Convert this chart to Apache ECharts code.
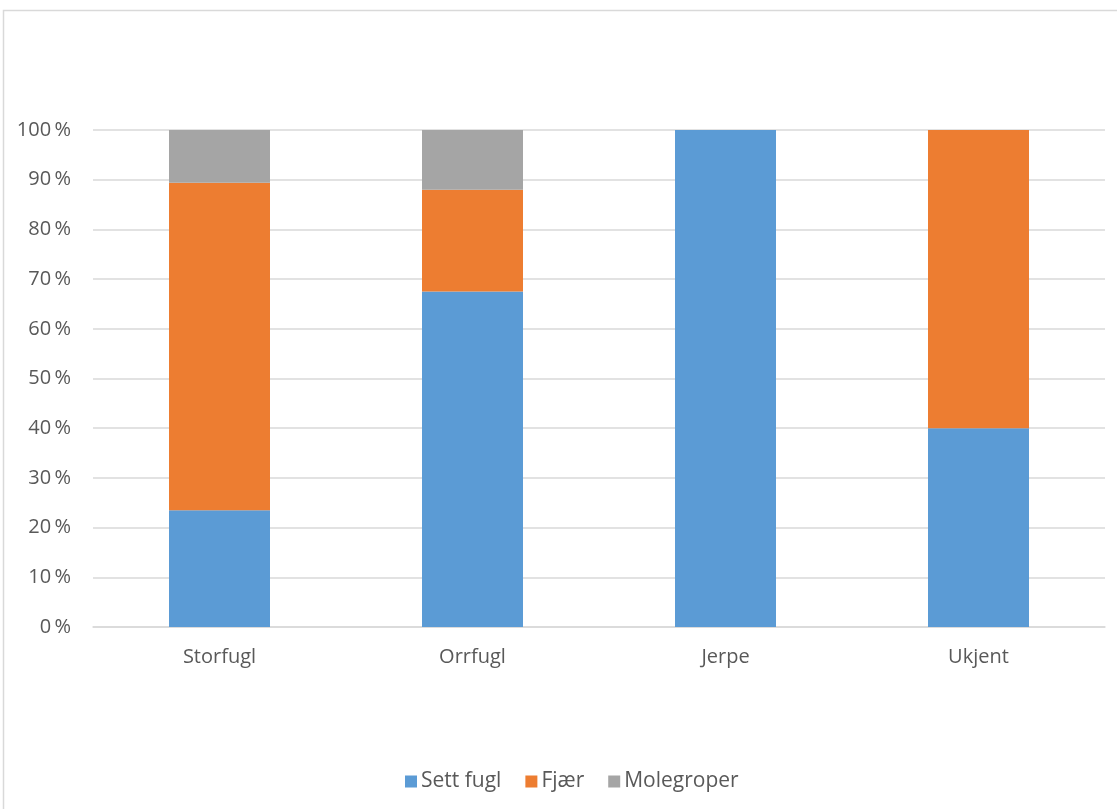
<!DOCTYPE html>
<html>
<head>
<meta charset="utf-8">
<script src="https://cdn.jsdelivr.net/npm/echarts@6/dist/echarts.min.js"></script>
<style>
  html, body { margin: 0; padding: 0; background: #ffffff; }
  #chart { width: 1117px; height: 809px; }
</style>
</head>
<body>
<div id="chart"></div>
<script>
// Categories and percentage shares per observation type
const categories = ['Storfugl', 'Orrfugl', 'Jerpe', 'Ukjent'];
const settFugl = [23.5, 67.5, 100, 40];
const fjaer = [65.9, 20.5, 0, 60];
const molegroper = [10.6, 12.0, 0, 0];
const seriesNames = ['Sett fugl', 'Fjær', 'Molegroper'];

const textColor = '#595959';
const gridColor = '#d9d9d9';
const fontFamily = '"Open Sans", "Noto Sans", sans-serif';

const chart = echarts.init(document.getElementById('chart'), null, { renderer: 'canvas' });

const barStyle = (name, data, color) => ({
  name: name,
  type: 'bar',
  stack: 'total',
  data: data,
  barWidth: 101,
  itemStyle: { color: color },
  emphasis: { disabled: true }
});

chart.setOption({
  animation: false,
  backgroundColor: '#ffffff',
  textStyle: { fontFamily: fontFamily },
  graphic: [{
    type: 'rect',
    shape: { x: 3.5, y: 10.5, width: 1200, height: 900 },
    style: { fill: 'none', stroke: gridColor, lineWidth: 1.5 },
    silent: true,
    z: -1
  }],
  grid: { left: 93, right: 12, top: 130, bottom: 182, containLabel: false },
  legend: {
    left: 400,
    top: 766,
    itemWidth: 12,
    itemHeight: 12,
    itemGap: 24,
    icon: 'rect',
    textStyle: { color: textColor, fontSize: 21, fontFamily: fontFamily, padding: [0, 0, 0, -1] },
    data: seriesNames
  },
  xAxis: {
    type: 'category',
    data: categories,
    axisLine: { lineStyle: { color: gridColor, width: 1.5 } },
    axisTick: { show: false },
    axisLabel: { color: textColor, fontSize: 20, margin: 20, fontFamily: fontFamily }
  },
  yAxis: {
    type: 'value',
    min: 0,
    max: 100,
    interval: 10,
    axisLine: { show: false },
    axisTick: { show: false },
    splitLine: { lineStyle: { color: gridColor, width: 1.5 } },
    axisLabel: {
      color: textColor,
      fontSize: 20,
      margin: 22,
      fontFamily: fontFamily,
      formatter: v => v + '\u2009%'
    }
  },
  series: [
    barStyle(seriesNames[0], settFugl, '#5b9bd5'),
    barStyle(seriesNames[1], fjaer, '#ed7d31'),
    barStyle(seriesNames[2], molegroper, '#a5a5a5')
  ]
});
</script>
</body>
</html>
